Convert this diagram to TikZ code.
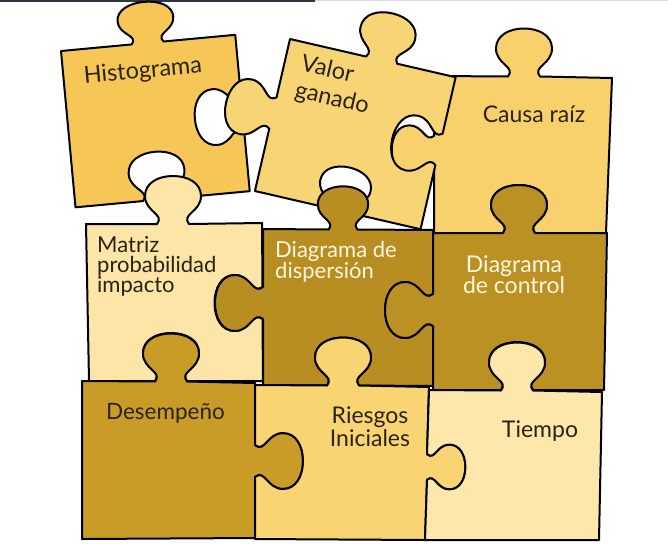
\documentclass[tikz,border=0pt]{standalone}
\usepackage{fontspec}
\setmainfont{Lato}
\definecolor{cHist}{HTML}{F6C757}
\definecolor{cValor}{HTML}{F8D574}
\definecolor{cCausa}{HTML}{F8D16C}
\definecolor{cMatriz}{HTML}{FCE5A6}
\definecolor{cDisp}{HTML}{B88E22}
\definecolor{cCtrl}{HTML}{BB9124}
\definecolor{cDesem}{HTML}{C99C27}
\definecolor{cRies}{HTML}{F9D472}
\definecolor{cTiempo}{HTML}{FDE7AB}
\definecolor{txtdark}{HTML}{2A2314}
\definecolor{txtlight}{HTML}{FFF7E0}
\definecolor{barnavy}{HTML}{2E3442}
\definecolor{bargray}{HTML}{D8D8D8}
\tikzset{
  kt/.style n args={5}{shift={(#1,#2)},rotate=#3,yscale=#4,scale=#5},
  piece/.style={draw=black, line width=2pt, line join=round},
  lbl/.style={inner sep=0pt, text=txtdark},
  lblw/.style={inner sep=0pt, text=txtlight},
}
\newcommand\kn[5]{%
 -- ([kt={#1}{#2}{#3}{#4}{#5}]-16,0)
 .. controls ([kt={#1}{#2}{#3}{#4}{#5}]-8,-10) and ([kt={#1}{#2}{#3}{#4}{#5}]-28,-12) .. ([kt={#1}{#2}{#3}{#4}{#5}]-28,-28)
 .. controls ([kt={#1}{#2}{#3}{#4}{#5}]-28,-41) and ([kt={#1}{#2}{#3}{#4}{#5}]-15,-48) .. ([kt={#1}{#2}{#3}{#4}{#5}]0,-48)
 .. controls ([kt={#1}{#2}{#3}{#4}{#5}]15,-48) and ([kt={#1}{#2}{#3}{#4}{#5}]28,-41) .. ([kt={#1}{#2}{#3}{#4}{#5}]28,-28)
 .. controls ([kt={#1}{#2}{#3}{#4}{#5}]28,-12) and ([kt={#1}{#2}{#3}{#4}{#5}]8,-10) .. ([kt={#1}{#2}{#3}{#4}{#5}]16,0)
}
\begin{document}
\begin{tikzpicture}[x=1pt,y=-1pt]
\path[use as bounding box, fill=white] (0,0) rectangle (668,543);
\fill[barnavy] (0,0) rectangle (315,1.6);
\fill[bargray] (315,0) rectangle (668,1.2);

% ---- top row ----
% Histograma
\begin{scope}[shift={(61,51)},rotate=5.3]
\path[piece, fill=cHist] (0,0) \kn{87}{0}{0}{0.86}{1} -- (175,0) \kn{175}{80}{-90}{-1}{1} -- (175,157) \kn{84}{157}{180}{-1}{1} -- (0,157) -- cycle;
\end{scope}
% Causa raiz
\path[piece, fill=cCausa] (434,76) \kn{524}{76.5}{0}{1}{1} -- (612,78) -- (606,233) \kn{519}{233}{180}{-1}{1} -- (434,233) \kn{434}{150}{90}{1}{0.88} -- cycle;
% Valor ganado
\begin{scope}[shift={(290,39)},rotate=-13]
\path[piece, fill=cValor] (0,0) \kn{94}{0}{0}{1}{1} -- (170,0) \kn{170}{74}{-90}{-1}{1} -- (170,156) \kn{87}{156}{180}{-1}{0.92} -- (0,156) \kn{0}{76}{90}{1}{1} -- cycle;
\end{scope}

% ---- middle row ----
\path[piece, fill=cMatriz] (86,224) \kn{173}{224}{0}{1}{1} -- (262,223) \kn{262.5}{303}{-90}{-1}{1} -- (263,381) \kn{171}{381}{180}{-1}{1} -- (89,381) -- cycle;
\path[piece, fill=cDisp] (263,229) \kn{343}{229.5}{0}{1}{0.9} -- (433,230) \kn{433}{310}{-90}{-1}{1} -- (433,386) \kn{343}{385.5}{180}{-1}{1} -- (263,385) \kn{263}{303}{90}{1}{1} -- cycle;
\path[piece, fill=cCtrl] (433,233) \kn{519}{233}{0}{1}{1} -- (607,233) -- (604,390) \kn{517}{390}{180}{-1}{1} -- (433,390) \kn{433}{310}{90}{1}{1} -- cycle;

% ---- bottom row ----
\path[piece, fill=cDesem] (82,381) \kn{171}{381.5}{0}{1}{1} -- (255,383) \kn{255}{461}{-90}{1}{1} -- (255,538) -- (82,539) -- cycle;
\path[piece, fill=cRies] (255,385) \kn{343}{385.5}{0}{1}{1} -- (429,387) \kn{427}{467}{-90}{1}{0.8} -- (425,540) -- (255,539) \kn{255}{461}{90}{-1}{1} -- cycle;
\path[piece, fill=cTiempo] (429,390) \kn{517}{390.5}{0}{1}{1} -- (602,392) -- (599,540) -- (425,540) \kn{427}{467}{90}{-1}{0.8} -- cycle;

% ---- labels ----
\node[lbl, font=\fontsize{23.5}{23.5}\selectfont, rotate=5.3, anchor=base] (hist) at (143.5,78) {Histograma};
\node[lbl, font=\fontsize{23.5}{27}\selectfont, rotate=-13, align=left] (valor) at (335,86) {Valor\\ganado};
\node[lbl, font=\fontsize{23}{23}\selectfont, anchor=base] (causa) at (534,122) {Causa raíz};
\node[lbl, font=\fontsize{22}{20}\selectfont, align=left, anchor=north west] (matriz) at (97,236.5) {Matriz\\probabilidad\\impacto};
\node[lblw, font=\fontsize{22}{20.5}\selectfont, align=left, anchor=north west] (disp) at (275,241.5) {Diagrama de\\dispersión};
\node[lblw, font=\fontsize{23}{21.5}\selectfont, align=center, anchor=north] (ctrl) at (514,255.5) {Diagrama\\de control};
\node[lbl, font=\fontsize{22.5}{22.5}\selectfont, anchor=base] (desem) at (165.5,419) {Desempeño};
\node[lbl, font=\fontsize{23}{23}\selectfont, align=center, anchor=north] (ries) at (370,407) {Riesgos\\Iniciales};
\node[lbl, font=\fontsize{23}{23}\selectfont, anchor=base] (tiempo) at (540,437) {Tiempo};
\end{tikzpicture}
\end{document}
